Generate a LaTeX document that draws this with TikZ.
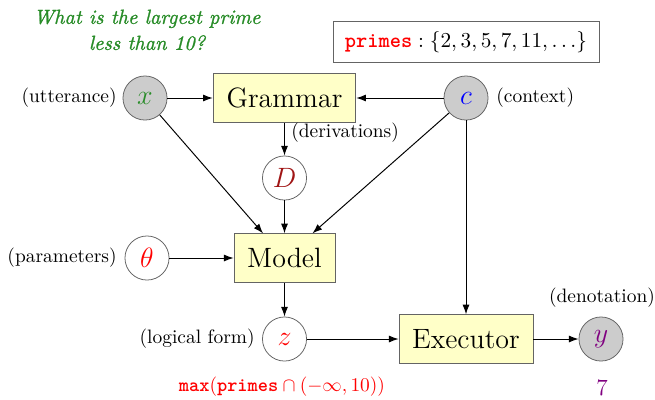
\documentclass[tikz,border=0pt]{standalone}
\usepackage{fontspec}
\usetikzlibrary{arrows.meta}
\newfontfamily\qfont{lmroman10-italic}[Extension=.otf,FakeBold=1.2]
\definecolor{qgreen}{RGB}{40,140,40}
\definecolor{dred}{RGB}{160,20,20}
\definecolor{vpurple}{RGB}{128,0,128}
\definecolor{boxfill}{RGB}{255,255,200}
\definecolor{obsfill}{RGB}{204,204,204}
\definecolor{bord}{RGB}{100,100,100}
\tikzset{
  obs/.style={circle,draw=bord,fill=obsfill,minimum size=22.7pt,inner sep=0pt,font=\Large},
  lat/.style={circle,draw=bord,fill=white,minimum size=22.7pt,inner sep=0pt,font=\Large},
  comp/.style={rectangle,draw=bord,fill=boxfill,minimum height=25pt,inner xsep=6pt,font=\Large},
  lab/.style={inner sep=0pt,font=\normalsize},
  edge/.style={draw=black,line width=0.5pt,-{Latex[length=5pt,width=3.6pt]}}
}
\begin{document}
\begin{tikzpicture}[x=0.515pt,y=-0.515pt]
\useasboundingbox (0,0) rectangle (655,399);
% question
\node[align=center,text=qgreen,font=\qfont\fontsize{10.5}{13.4}\selectfont,inner sep=0pt] (q) at (147,30)
  {What is the largest prime\\ less than 10?};
% world
\node[draw=bord,fill=white,inner xsep=4pt,inner ysep=3pt,font=\fontsize{11}{13}\selectfont,minimum width=137pt,minimum height=21.5pt] (w) at (466,42)
  {$\textcolor{red}{\texttt{\textbf{primes}}}:\{2,3,5,7,11,\ldots\}$};
% nodes
\node[obs] (x) at (145,98) {$\textcolor{qgreen}{x}$};
\node[comp,minimum width=73.5pt] (G) at (284.5,98) {Grammar};
\node[obs] (c) at (466,98) {$\textcolor{blue}{c}$};
\node[lat] (D) at (284.5,178) {$\textcolor{dred}{D}$};
\node[lat] (th) at (147,258) {$\textcolor{red}{\theta}$};
\node[comp,minimum width=52pt] (M) at (284.5,258) {Model};
\node[lat] (z) at (284.5,339) {$\textcolor{red}{z}$};
\node[comp,minimum width=69pt] (E) at (466,339) {Executor};
\node[obs] (y) at (601,339) {$\textcolor{vpurple}{y}$};
% labels
\node[lab,anchor=east] (lx) at (117,98) {(utterance)};
\node[lab,anchor=west] (lc) at (496,98) {(context)};
\node[lab,anchor=west] (ld) at (291,133) {(derivations)};
\node[lab,anchor=east] (lth) at (117,258) {(parameters)};
\node[lab,anchor=east] (lz) at (255,339) {(logical form)};
\node[lab] (ly) at (602,298) {(denotation)};
\node[lab,text=vpurple,font=\large] (seven) at (602,388) {7};
\node[lab,text=red] (lf) at (282,387)
  {$\texttt{\textbf{max}}(\texttt{\textbf{primes}}\cap(-\infty,10))$};
% edges
\draw[edge] (x) -- (G);
\draw[edge] (c) -- (G);
\draw[edge] (G) -- (D);
\draw[edge] (x) -- (M);
\draw[edge] (c) -- (M);
\draw[edge] (D) -- (M);
\draw[edge] (th) -- (M);
\draw[edge] (M) -- (z);
\draw[edge] (z) -- (E);
\draw[edge] (c) -- (E);
\draw[edge] (E) -- (y);
\end{tikzpicture}
\end{document}
